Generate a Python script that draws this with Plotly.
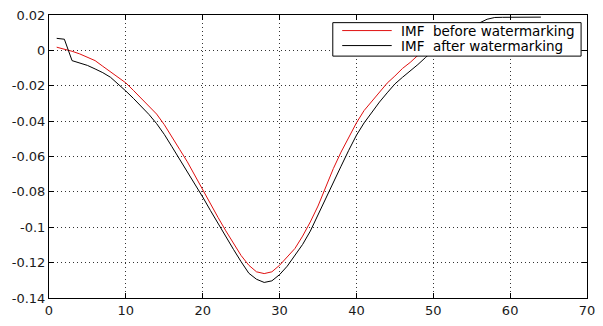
import plotly.graph_objects as go

x_vals = list(range(1, 65))

imf_before = [
    0.0018, 0.0008, -0.0005, -0.0020, -0.0037, -0.0058, -0.0090, -0.0122, -0.0152, -0.0184,
    -0.0227, -0.0270, -0.0315, -0.0360, -0.0420, -0.0493, -0.0560, -0.0630, -0.0710, -0.0793,
    -0.0870, -0.0945, -0.1020, -0.1090, -0.1160, -0.1215, -0.1252, -0.1262, -0.1252, -0.1215,
    -0.1170, -0.1120, -0.1050, -0.0970, -0.0880, -0.0770, -0.0668, -0.0575, -0.0495, -0.0410,
    -0.0340, -0.0288, -0.0235, -0.0185, -0.0145, -0.0102, -0.0068, -0.0028, 0.0005, 0.0035,
    0.0065, 0.0092, 0.0112, 0.0128, 0.0138, 0.0145, 0.0150, 0.0152, 0.0153, 0.0153,
    0.0153, 0.0153, 0.0153, 0.0153,
]

imf_after = [
    0.0068, 0.0063, -0.0058, -0.0072, -0.0085, -0.0105, -0.0126, -0.0152, -0.0190, -0.0230,
    -0.0272, -0.0315, -0.0362, -0.0414, -0.0475, -0.0545, -0.0615, -0.0685, -0.0757, -0.0829,
    -0.0905, -0.0980, -0.1055, -0.1125, -0.1195, -0.1260, -0.1294, -0.1312, -0.1303, -0.1268,
    -0.1220, -0.1160, -0.1097, -0.1022, -0.0930, -0.0835, -0.0738, -0.0655, -0.0565, -0.0480,
    -0.0410, -0.0350, -0.0292, -0.0240, -0.0190, -0.0152, -0.0118, -0.0080, -0.0040, 0.0000,
    0.0040, 0.0080, 0.0112, 0.0132, 0.0145, 0.0155, 0.0176, 0.0186, 0.0187, 0.0188,
    0.0188, 0.0188, 0.0188, 0.0188,
]

series_names = ["IMF  before watermarking", "IMF  after watermarking"]
series_colors = ["#e01010", "#000000"]

x_tickvals = [0, 10, 20, 30, 40, 50, 60, 70]
x_ticktext = ["0", "10", "20", "30", "40", "50", "60", "70"]
y_tickvals = [0.02, 0, -0.02, -0.04, -0.06, -0.08, -0.1, -0.12, -0.14]
y_ticktext = ["0.02", "0", "-0.02", "-0.04", "-0.06", "-0.08", "-0.1", "-0.12", "-0.14"]

FONT = "DejaVu Sans"

fig = go.Figure()
for name, ys, col in zip(series_names, [imf_before, imf_after], series_colors):
    fig.add_trace(go.Scatter(x=x_vals, y=ys, mode="lines", name=name,
                             line=dict(color=col, width=1), showlegend=False))

axis_common = dict(
    showline=True, linecolor="#000000", linewidth=1, mirror="ticks",
    ticks="inside", ticklen=5, tickcolor="#000000", tickwidth=1,
    showgrid=True, gridcolor="#333333", gridwidth=1, griddash="1px,3px",
    zeroline=False, tickfont=dict(family=FONT, size=13, color="#1a1a1a"),
)

fig.update_xaxes(range=[0, 70], tickmode="array", tickvals=x_tickvals, ticktext=x_ticktext,
                 **axis_common)
fig.update_yaxes(range=[-0.14, 0.02], tickmode="array", tickvals=y_tickvals, ticktext=y_ticktext,
                 **axis_common)

# Legend box (MATLAB style): frame, line samples and labels in paper coordinates
legend_box = dict(x0=0.5275, x1=0.989, y0=0.8547, y1=0.973)
sample_x = (0.545, 0.637)
label_x = 0.650
row_y = [0.945, 0.892]

fig.add_shape(type="rect", xref="paper", yref="paper",
              x0=legend_box["x0"], x1=legend_box["x1"], y0=legend_box["y0"], y1=legend_box["y1"],
              line=dict(color="#000000", width=1), fillcolor="#ffffff", layer="above")
for name, col, yy in zip(series_names, series_colors, row_y):
    fig.add_shape(type="line", xref="paper", yref="paper",
                  x0=sample_x[0], x1=sample_x[1], y0=yy, y1=yy,
                  line=dict(color=col, width=1), layer="above")
    fig.add_annotation(xref="paper", yref="paper", x=label_x, y=yy, text=name,
                       showarrow=False, xanchor="left", yanchor="middle",
                       font=dict(family=FONT, size=13.5, color="#000000"))

fig.update_layout(
    width=603, height=326,
    margin=dict(l=49, r=8, t=13, b=17, pad=0),
    paper_bgcolor="#ffffff", plot_bgcolor="#ffffff",
    font=dict(family=FONT, size=14, color="#000000"),
    showlegend=False,
)

fig.write_html("out.html")
